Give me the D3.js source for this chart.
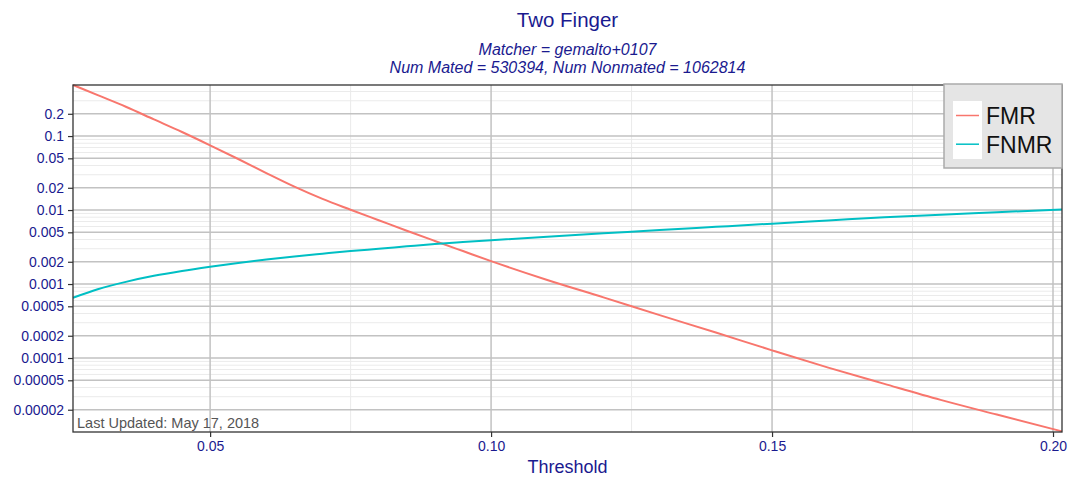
<!DOCTYPE html>
<html>
<head>
<meta charset="utf-8">
<script src="https://d3js.org/d3.v7.min.js"></script>
<style>
  body { margin: 0; background: #fff; }
  svg { font-family: "Liberation Sans", Arial, sans-serif; }
</style>
</head>
<body>
<svg id="chart" width="1069" height="478"></svg>
<script>
// Chart values
var thresholds = [0.0256, 0.03, 0.035, 0.04, 0.045, 0.05, 0.055, 0.06, 0.065, 0.07, 0.075, 0.08, 0.085, 0.09, 0.095, 0.10,
	0.11, 0.12, 0.13, 0.14, 0.15, 0.16, 0.17, 0.18, 0.19, 0.2016];
var fmr = [0.49, 0.357, 0.249, 0.168, 0.1135, 0.075, 0.049, 0.0316, 0.0207, 0.01413, 0.0101, 0.00728, 0.00525, 0.00382, 0.00279, 0.00204,
	0.001135, 0.00066, 0.00038, 0.000221, 0.000127, 0.0000741, 0.0000447, 0.0000272, 0.0000172, 0.0000102];
var fnmr = [0.000653, 0.000851, 0.00107, 0.00129, 0.0015, 0.00171, 0.00193, 0.00215, 0.00236, 0.00257, 0.00279, 0.0030, 0.00323, 0.00347, 0.00369, 0.00391,
	0.00437, 0.00484, 0.00537, 0.00593, 0.00655, 0.00724, 0.0080, 0.00865, 0.00933, 0.0102];

var seriesNames = ["FMR", "FNMR"];
var seriesColors = ["#F8766D", "#00BFC4"];

var yMajor = [0.2, 0.1, 0.05, 0.02, 0.01, 0.005, 0.002, 0.001, 0.0005, 0.0002, 0.0001, 0.00005, 0.00002];
var yLabels = ["0.2", "0.1", "0.05", "0.02", "0.01", "0.005", "0.002", "0.001", "0.0005", "0.0002", "0.0001", "0.00005", "0.00002"];
var xMajor = [0.05, 0.10, 0.15, 0.20];
var xMinor = [0.075, 0.125, 0.175];

var titleText = "Two Finger";
var subText1 = "Matcher = gemalto+0107";
var subText2 = "Num Mated = 530394, Num Nonmated = 1062814";
var updatedText = "Last Updated: May 17, 2018";

var navy = "#1a1a8f";

var svg = d3.select("#chart");
var pLeft = 73, pRight = 1062, pTop = 85, pBottom = 432;

var x = d3.scaleLinear().domain([0.0256, 0.2016]).range([pLeft, pRight]);
var y = d3.scaleLog().domain([0.00001, 0.49]).range([pBottom, pTop]);

// minor y grid: 1..9 per decade, skipping the labelled ones
var yMinor = [];
for (var e = -5; e <= 0; e++) {
	for (var m = 1; m <= 9; m++) {
		var v = m * Math.pow(10, e);
		var isMajor = yMajor.some(function(t){ return Math.abs(t - v) / v < 1e-6; });
		if (!isMajor && v > 0.00001 && v <= 0.49) yMinor.push(v);
	}
}

var grid = svg.append("g");

grid.selectAll(".ymin")
	.data(yMinor)
	.enter()
	.append("line")
	.attr("x1", pLeft).attr("x2", pRight)
	.attr("y1", d => y(d)).attr("y2", d => y(d))
	.style("stroke", "#ebebeb")
	.style("stroke-width", 1);

grid.selectAll(".xmin")
	.data(xMinor)
	.enter()
	.append("line")
	.attr("x1", d => x(d)).attr("x2", d => x(d))
	.attr("y1", pTop).attr("y2", pBottom)
	.style("stroke", "#ebebeb")
	.style("stroke-width", 1);

grid.selectAll(".ymaj")
	.data(yMajor)
	.enter()
	.append("line")
	.attr("x1", pLeft).attr("x2", pRight)
	.attr("y1", d => y(d)).attr("y2", d => y(d))
	.style("stroke", "#c2c2c2")
	.style("stroke-width", 1.5);

grid.selectAll(".xmaj")
	.data(xMajor)
	.enter()
	.append("line")
	.attr("x1", d => x(d)).attr("x2", d => x(d))
	.attr("y1", pTop).attr("y2", pBottom)
	.style("stroke", "#c2c2c2")
	.style("stroke-width", 1.5);

// curves
var lines = [fmr, fnmr];
lines.forEach(function(vals, i){
	var pts = thresholds.map(function(t, j){ return [t, vals[j]]; });
	svg.append("path")
		.datum(pts)
		.attr("d", d3.line()
			.x(d => x(d[0]))
			.y(d => y(d[1]))
			.curve(d3.curveMonotoneX))
		.style("fill", "none")
		.style("stroke", seriesColors[i])
		.style("stroke-width", 2);
});

// panel border
svg.append("rect")
	.attr("x", pLeft).attr("y", pTop)
	.attr("width", pRight - pLeft).attr("height", pBottom - pTop)
	.style("fill", "none")
	.style("stroke", "#333")
	.style("stroke-width", 1.3);

// axes
var yAxis = svg.append("g")
	.attr("transform", "translate(" + pLeft + ",0)")
	.call(d3.axisLeft(y).tickValues(yMajor).tickFormat((d, i) => yLabels[i]).tickSize(5).tickPadding(4));
var xAxis = svg.append("g")
	.attr("transform", "translate(0," + pBottom + ")")
	.call(d3.axisBottom(x).tickValues(xMajor).tickFormat(d3.format(".2f")).tickSize(5).tickPadding(4));

[yAxis, xAxis].forEach(function(ax){
	ax.select(".domain").remove();
	ax.selectAll(".tick line").style("stroke", "#333").style("stroke-width", 1.2);
	ax.selectAll(".tick text")
		.style("fill", navy)
		.style("font-size", "14px")
		.style("font-family", "'Liberation Sans', Arial, sans-serif");
});

// titles
svg.append("text")
	.attr("x", (pLeft + pRight) / 2).attr("y", 27)
	.attr("text-anchor", "middle")
	.style("font-size", "20.5px")
	.style("fill", navy)
	.text(titleText);

svg.append("text")
	.attr("x", (pLeft + pRight) / 2).attr("y", 55)
	.attr("text-anchor", "middle")
	.style("font-size", "16px")
	.style("font-style", "italic")
	.style("fill", navy)
	.text(subText1);

svg.append("text")
	.attr("x", (pLeft + pRight) / 2).attr("y", 72.5)
	.attr("text-anchor", "middle")
	.style("font-size", "16px")
	.style("font-style", "italic")
	.style("fill", navy)
	.text(subText2);

svg.append("text")
	.attr("x", (pLeft + pRight) / 2).attr("y", 473)
	.attr("text-anchor", "middle")
	.style("font-size", "18px")
	.style("fill", navy)
	.text("Threshold");

svg.append("text")
	.attr("x", pLeft + 4).attr("y", pBottom - 4)
	.style("font-size", "14.5px")
	.style("fill", "#555")
	.text(updatedText);

// legend
var legend = svg.append("g").attr("class", "legend");
legend.append("rect")
	.attr("x", 944).attr("y", 84)
	.attr("width", 118).attr("height", 84)
	.style("fill", "#e5e5e5")
	.style("stroke", "#aaa")
	.style("stroke-width", 1.5);
legend.append("rect")
	.attr("x", 953).attr("y", 101)
	.attr("width", 29).attr("height", 58)
	.style("fill", "#fff");

legend.selectAll(".key")
	.data(seriesNames)
	.enter()
	.append("line")
	.attr("x1", 956).attr("x2", 979)
	.attr("y1", (d, i) => 115.5 + i * 28.7)
	.attr("y2", (d, i) => 115.5 + i * 28.7)
	.style("stroke", (d, i) => seriesColors[i])
	.style("stroke-width", 1.5);

legend.selectAll(".lab")
	.data(seriesNames)
	.enter()
	.append("text")
	.attr("x", 986)
	.attr("y", (d, i) => 124 + i * 28.7)
	.style("font-size", "23px")
	.style("fill", "#111")
	.text(d => d);
</script>
</body>
</html>
